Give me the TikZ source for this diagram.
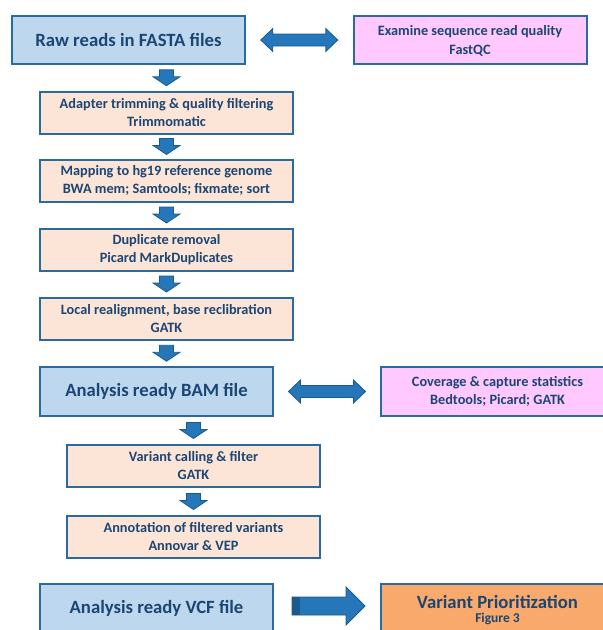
\documentclass[tikz,border=0pt]{standalone}
\usepackage{fontspec}
\setmainfont{Carlito}
\usetikzlibrary{calc}
\definecolor{bord}{HTML}{2B6A9C}
\definecolor{blueF}{HTML}{BDD7EE}
\definecolor{pinkF}{HTML}{FFC9FF}
\definecolor{peachF}{HTML}{FCE4D6}
\definecolor{orangeF}{HTML}{F9A96B}
\definecolor{txt}{HTML}{1B4673}
\definecolor{arrF}{HTML}{2577BA}
\definecolor{arrD}{HTML}{1B5A8E}
\tikzset{
  boxbase/.style={draw=bord, line width=2pt, text=txt, align=center, inner sep=0pt, anchor=center},
  bigbox/.style={boxbase, fill=blueF, minimum width=233pt, minimum height=48pt,
    font=\fontsize{18.7}{22}\selectfont\bfseries},
  sidebox/.style={boxbase, fill=pinkF, minimum width=233pt, minimum height=48pt,
    font=\fontsize{14.3}{19}\selectfont\bfseries},
  peachbox/.style={boxbase, fill=peachF, minimum width=253pt, minimum height=42pt,
    font=\fontsize{14.3}{18}\selectfont\bfseries},
  priobox/.style={boxbase, fill=orangeF, minimum width=233pt, minimum height=49pt},
  blockarrow/.style={fill=arrF, draw=arrD, line width=0.8pt, line join=miter},
  downarr/.pic={\path[blockarrow] (-7,-8) -- (7,-8) -- (7,-1) -- (13.5,-1) -- (0,8) -- (-13.5,-1) -- (-7,-1) -- cycle;},
  dblarr/.pic={\path[blockarrow] (-38.5,0) -- (-26.5,-11.5) -- (-26.5,-6) -- (26.5,-6) -- (26.5,-11.5) -- (38.5,0) -- (26.5,11.5) -- (26.5,6) -- (-26.5,6) -- (-26.5,11.5) -- cycle;},
  rightarr/.pic={\path[blockarrow] (-36.5,-9) -- (17.5,-9) -- (17.5,-19) -- (36.5,0) -- (17.5,19) -- (17.5,9) -- (-36.5,9) -- cycle;
    \path[fill=arrD] (-36.5,-9) rectangle (-28.5,9);}
}
\begin{document}
\begin{tikzpicture}[x=1pt,y=-1pt]
\path[use as bounding box] (0,0) rectangle (603,630);
\clip (0,0) rectangle (603,630);

\node[bigbox] (raw) at (128.5,40) {Raw reads in FASTA files};
\node[sidebox, text depth=0pt] (exam) at (470,40) {Examine sequence read quality\\FastQC};
\node[peachbox] (adapt) at (166.5,112.5) {Adapter trimming \& quality filtering\\Trimmomatic};
\node[peachbox] (map) at (166.5,180.5) {Mapping to hg19 reference genome\\BWA mem; Samtools; fixmate; sort};
\node[peachbox] (dup) at (166.5,249.5) {Duplicate removal\\Picard MarkDuplicates};
\node[peachbox] (local) at (166.5,318.5) {Local realignment, base reclibration\\GATK};
\node[bigbox, minimum height=49pt] (bam) at (156.5,391.5) {Analysis ready BAM file};
\node[sidebox, minimum height=49pt, font=\fontsize{14.3}{18}\selectfont\bfseries] (cov) at (497.5,391.5) {Coverage \& capture statistics\\Bedtools; Picard; GATK};
\node[peachbox] (var) at (193.5,466) {Variant calling \& filter\\GATK};
\node[peachbox] (annot) at (193.5,537) {Annotation of filtered variants\\Annovar \& VEP};
\node[bigbox, minimum height=49pt] (vcf) at (156.5,608.5) {Analysis ready VCF file};
\node[priobox] (prior) at (497.5,608.5) {};
\node[text=txt, font=\fontsize{18.7}{22}\selectfont\bfseries, inner sep=0pt] (priot) at (497.5,602) {Variant Prioritization};
\node[text=txt, font=\fontsize{13.5}{16}\selectfont\bfseries, inner sep=0pt] (prios) at (497.5,619) {Figure 3};

% double arrows
\pic at ($(raw.east)!0.5!(exam.west)$) {dblarr};
\pic at ($(bam.east)!0.5!(cov.west)$) {dblarr};
% down arrows
\pic at ($(raw.south -| adapt.north)!0.5!(adapt.north)$) {downarr};
\pic at ($(adapt.south)!0.5!(map.north)$) {downarr};
\pic at ($(map.south)!0.5!(dup.north)$) {downarr};
\pic at ($(dup.south)!0.5!(local.north)$) {downarr};
\pic at ($(local.south)!0.5!(local.south |- bam.north)$) {downarr};
\pic at ($(bam.south -| var.north)!0.5!(var.north)$) {downarr};
\pic at ($(var.south)!0.5!(annot.north)$) {downarr};
% right arrow
\pic at ($($(vcf.east)!0.5!(prior.west)$)+(1.5,-2.5)$) {rightarr};
\end{tikzpicture}
\end{document}
